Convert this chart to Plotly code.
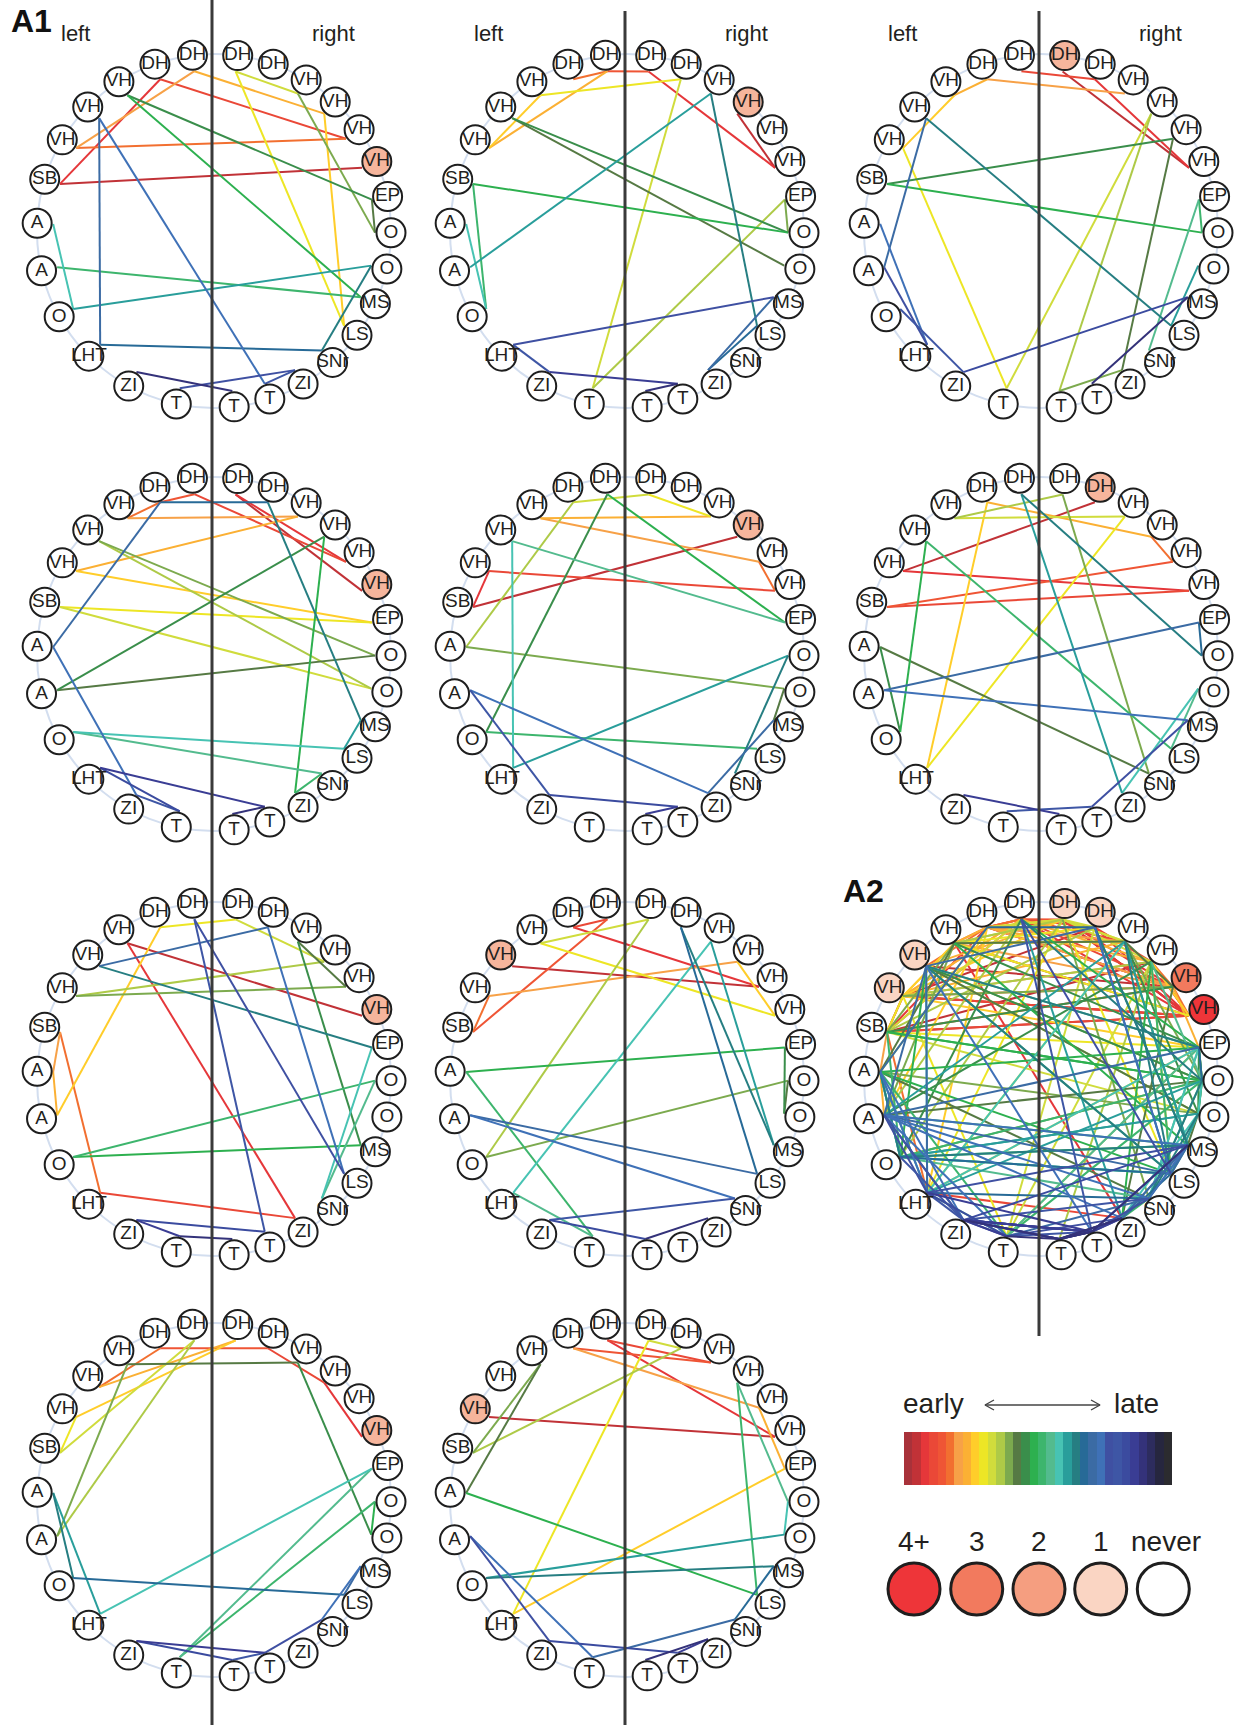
import numpy as np
import plotly.graph_objects as go

# ---------------- data ----------------
LEFT_LABELS = ["DH", "DH", "VH", "VH", "VH", "SB", "A", "A", "O", "LHT", "ZI", "T"]
RIGHT_LABELS = ["DH", "DH", "VH", "VH", "VH", "VH", "EP", "O", "O", "MS", "LS", "SNr", "ZI", "T", "T"]

# early -> late colour steps (index = order of the transition)
PALETTE = ["#A8323A", "#C13237", "#E5373A", "#EA4837", "#EF5535", "#F26F30", "#F7A147", "#FBB034",
           "#FFCD2A", "#EDE625", "#D0DC3C", "#AECA47", "#7CAA4E", "#567A44", "#3A8E4B", "#2DB04F",
           "#3DB56D", "#53BB8E", "#47C3B3", "#299E9B", "#267E82", "#276A97", "#3B6BA4", "#3F71B7",
           "#3F50A2", "#3E56A5", "#3B4B9F", "#3A3D94", "#34327A", "#2D2C5E", "#26263F", "#2B2B2F"]

LEVEL_NAMES = ["4+", "3", "2", "1", "never"]
LEVEL_COLORS = ["#EE3539", "#F27A5E", "#F59E80", "#FAD5C3", "#FFFFFF"]
SEED_COLOR = "#F6B59C"

EDGES_1 = [("L5", "R5", 1), ("L5", "L1", 2), ("L1", "R4", 3), ("L4", "R4", 5), ("L0", "L4", 6), ("L0", "R3", 7),
           ("R3", "R10", 8), ("R0", "R10", 9), ("R0", "R2", 10), ("R2", "R7", 12), ("R6", "R7", 13), ("L2", "R6", 14),
           ("L2", "R9", 15), ("L7", "R9", 16), ("L6", "L8", 18), ("L8", "R8", 19), ("R8", "R11", 20), ("L9", "R11", 21),
           ("L3", "L9", 22), ("L3", "R13", 23), ("L11", "R12", 24), ("R13", "R12", 25), ("L10", "R14", 28)]
EDGES_2 = [("R3", "R5", 1), ("R0", "R5", 2), ("L0", "R0", 4), ("L1", "L0", 5), ("L0", "L4", 7), ("L2", "L4", 8),
           ("L2", "R1", 9), ("R1", "L11", 10), ("R6", "L11", 11), ("R6", "R7", 12), ("L3", "R8", 13), ("L3", "R7", 14),
           ("L5", "R7", 15), ("L5", "L8", 16), ("L6", "L8", 18), ("L7", "R2", 19), ("R2", "R10", 20), ("R10", "R12", 21),
           ("R9", "R12", 22), ("R9", "L9", 24), ("L9", "L10", 25), ("L10", "R13", 27), ("R13", "R14", 28)]
EDGES_3 = [("R0", "R5", 1), ("R1", "R5", 2), ("L0", "R1", 3), ("L1", "R2", 6), ("L1", "L2", 7), ("L2", "L4", 8),
           ("L4", "L11", 9), ("L11", "R3", 10), ("R3", "R14", 11), ("R14", "R12", 12), ("R12", "R4", 13), ("R4", "L5", 14),
           ("L5", "R7", 15), ("R7", "R6", 16), ("R6", "R11", 17), ("R8", "R10", 19), ("L3", "R10", 20), ("L3", "L7", 22),
           ("L6", "L9", 23), ("L7", "L9", 24), ("L8", "L10", 25), ("L10", "R9", 26), ("R9", "R13", 28)]
EDGES_4 = [("R5", "R0", 1), ("R0", "R4", 2), ("L0", "R4", 3), ("L0", "L1", 4), ("L1", "L2", 5), ("L2", "R2", 6),
           ("R2", "L4", 7), ("L4", "R6", 8), ("L5", "R6", 9), ("L5", "R8", 10), ("L3", "R8", 11), ("L3", "R7", 12),
           ("R7", "L7", 13), ("L7", "R3", 14), ("R3", "R12", 15), ("R12", "R11", 16), ("R11", "L8", 17), ("L8", "R10", 18),
           ("R10", "R9", 19), ("R9", "R1", 20), ("R1", "L1", 21), ("L1", "L6", 22), ("L6", "L10", 23), ("L10", "L11", 25),
           ("L11", "L9", 26), ("L9", "R13", 27), ("R13", "R14", 28)]
EDGES_5 = [("R3", "L5", 1), ("L5", "L4", 2), ("L4", "R5", 3), ("R5", "R4", 5), ("R4", "L2", 6), ("L2", "R2", 7),
           ("R2", "R0", 9), ("R0", "L1", 10), ("L1", "L6", 11), ("L6", "R8", 12), ("R8", "R9", 13), ("L0", "L8", 14),
           ("L0", "R6", 15), ("L8", "R10", 16), ("R6", "L3", 17), ("L3", "L9", 18), ("L9", "R7", 19), ("R7", "R11", 20),
           ("R9", "R12", 22), ("R12", "L7", 23), ("L7", "L10", 25), ("L10", "R13", 26), ("R13", "R14", 27)]
EDGES_6 = [("R1", "L4", 1), ("L4", "R5", 2), ("R5", "L5", 3), ("L5", "R4", 4), ("R4", "R3", 5), ("R3", "L1", 7),
           ("L1", "L9", 8), ("L9", "R2", 9), ("R2", "L2", 10), ("L2", "R0", 11), ("R0", "R11", 12), ("R11", "L6", 13),
           ("L6", "L8", 14), ("L8", "L3", 15), ("L3", "R10", 16), ("R10", "R8", 17), ("R8", "R12", 18), ("R12", "L0", 19),
           ("L0", "R7", 20), ("R7", "R6", 21), ("R6", "L7", 22), ("L7", "R9", 23), ("R9", "R13", 24), ("R13", "L11", 25),
           ("L10", "R14", 27)]
EDGES_7 = [("R5", "L2", 1), ("L2", "R12", 2), ("R12", "L9", 3), ("L9", "L5", 5), ("L5", "L6", 6), ("L6", "L7", 7),
           ("L7", "L1", 8), ("L1", "R0", 9), ("R0", "R3", 10), ("R3", "L4", 11), ("L4", "R4", 12), ("R4", "R2", 13),
           ("R2", "R9", 14), ("R9", "L8", 15), ("L8", "R7", 16), ("R7", "R11", 17), ("R11", "R6", 18), ("R6", "L3", 20),
           ("L3", "R1", 22), ("R1", "R10", 23), ("R10", "L0", 24), ("L0", "R13", 25), ("R13", "L10", 26), ("L10", "L11", 27),
           ("L11", "R14", 28)]
EDGES_8 = [("L3", "R4", 1), ("R4", "L1", 2), ("L1", "L0", 3), ("L0", "L5", 4), ("L5", "L4", 5), ("L4", "R3", 6),
           ("R3", "R5", 8), ("R5", "L2", 9), ("L2", "R0", 10), ("R0", "L8", 11), ("L8", "R7", 12), ("R7", "R8", 13),
           ("R8", "R6", 14), ("R6", "L6", 15), ("L6", "L11", 16), ("L11", "L9", 17), ("L9", "R2", 18), ("R2", "R9", 19),
           ("R9", "R1", 20), ("R1", "R10", 21), ("R10", "L7", 22), ("L7", "R11", 23), ("R11", "L10", 25), ("L10", "R14", 26),
           ("R14", "R12", 28)]
EDGES_9 = [("R5", "R3", 2), ("R3", "R1", 3), ("R1", "L1", 4), ("L1", "L3", 5), ("L3", "R0", 7), ("R0", "L4", 8),
           ("L4", "L5", 9), ("L5", "L0", 10), ("L0", "L7", 11), ("L7", "L2", 12), ("L2", "R2", 13), ("R2", "R8", 14),
           ("R8", "R7", 15), ("R7", "L11", 16), ("L11", "R6", 17), ("R6", "L9", 18), ("L9", "L6", 19), ("L6", "L8", 20),
           ("L8", "R10", 21), ("R10", "R9", 22), ("R9", "R11", 23), ("R11", "R13", 24), ("R13", "R14", 25),
           ("R14", "L10", 26), ("L10", "R13", 27)]
EDGES_10 = [("L4", "R5", 1), ("R5", "L0", 2), ("L0", "R2", 3), ("L1", "R2", 4), ("L1", "R4", 6), ("R4", "R6", 7),
            ("R6", "L9", 8), ("L9", "R0", 9), ("R0", "R1", 10), ("R1", "L5", 11), ("L5", "L2", 12), ("L2", "L6", 13),
            ("L6", "R10", 15), ("R10", "R3", 16), ("R3", "R7", 17), ("R7", "R8", 18), ("R8", "L8", 19), ("L8", "R9", 20),
            ("R9", "R11", 21), ("R11", "L11", 22), ("L11", "L7", 23), ("L7", "L10", 24), ("L10", "R13", 26),
            ("R13", "R12", 27), ("R12", "R14", 28)]

A1_EDGES = [EDGES_1, EDGES_2, EDGES_3, EDGES_4, EDGES_5, EDGES_6, EDGES_7, EDGES_8, EDGES_9, EDGES_10]
A1_SEEDS = ["R5", "R3", "R0", "R5", "R3", "R1", "R5", "L3", "R5", "L4"]
# A2 node recurrence level; others are "never"
A2_LEVELS = {"R0": "1", "R1": "1", "R4": "3", "R5": "4+", "L3": "1", "L4": "1"}

# ---------------- layout geometry ----------------
W, H = 1242, 1725
COL_X = [214, 627, 1041]
ROW_Y = [231, 654, 1079, 1500]
A1_POS = [(0, 0), (0, 1), (0, 2), (1, 0), (1, 1), (1, 2), (2, 0), (2, 1), (3, 0), (3, 1)]
A2_POS = (2, 2)
NODE_R = 177
ANCHOR_R = 161
LEFT_ANG = [-7, -19.5, -32.5, -45.5, -59, -73, -87.5, -103, -119, -135, -151.2, -167.7]
RIGHT_ANG = [7.7 + 11.84 * i for i in range(15)]
LINE_X = [212, 625, 1039]
LINE_Y = [(0, H), (11, H), (11, 1336)]

FONT = "Liberation Sans, Arial, sans-serif"
NARROW = "Liberation Sans Narrow, Arial Narrow, Liberation Sans, Arial, sans-serif"
TXT = "#231F20"


def node_xy(cx, cy, node, r):
    ang = LEFT_ANG[int(node[1:])] if node[0] == "L" else RIGHT_ANG[int(node[1:])]
    t = np.radians(ang)
    return cx + r * np.sin(t), cy - r * np.cos(t)


ALL_NODES = ["L%d" % i for i in range(len(LEFT_LABELS))] + ["R%d" % i for i in range(len(RIGHT_LABELS))]


def label_of(node):
    return LEFT_LABELS[int(node[1:])] if node[0] == "L" else RIGHT_LABELS[int(node[1:])]


panels = []
for edges, seed, (r, c) in zip(A1_EDGES, A1_SEEDS, A1_POS):
    colors = {n: (SEED_COLOR if n == seed else "#FFFFFF") for n in ALL_NODES}
    panels.append((COL_X[c], ROW_Y[r], edges, colors))
a2_edges = [e for lst in A1_EDGES for e in lst]
a2_colors = {n: LEVEL_COLORS[LEVEL_NAMES.index(A2_LEVELS[n])] if n in A2_LEVELS else "#FFFFFF" for n in ALL_NODES}
panels.append((COL_X[A2_POS[1]], ROW_Y[A2_POS[0]], a2_edges, a2_colors))

fig = go.Figure()
shapes = []

# guide circles
for cx, cy, _, _ in panels:
    shapes.append(dict(type="circle", xref="x", yref="y", x0=cx - NODE_R, x1=cx + NODE_R,
                       y0=cy - NODE_R, y1=cy + NODE_R, line=dict(color="#D3DEEF", width=2), layer="below"))

# edges grouped by colour step
seg = {k: ([], []) for k in range(len(PALETTE))}
for cx, cy, edges, _ in panels:
    for a, b, k in edges:
        xa, ya = node_xy(cx, cy, a, ANCHOR_R)
        xb, yb = node_xy(cx, cy, b, ANCHOR_R)
        seg[k][0].extend([xa, xb, None])
        seg[k][1].extend([ya, yb, None])
for k in range(len(PALETTE)):
    if seg[k][0]:
        fig.add_trace(go.Scatter(x=seg[k][0], y=seg[k][1], mode="lines",
                                 line=dict(color=PALETTE[k], width=2), hoverinfo="skip", showlegend=False))

# nodes
nx, ny, nt, nc = [], [], [], []
for cx, cy, _, colors in panels:
    for n in ALL_NODES:
        x, y = node_xy(cx, cy, n, NODE_R)
        nx.append(x); ny.append(y); nt.append(label_of(n)); nc.append(colors[n])
fig.add_trace(go.Scatter(x=nx, y=ny, mode="markers+text", text=nt, textposition="middle center",
                         textfont=dict(family=NARROW, size=19, color=TXT),
                         marker=dict(size=29, color=nc, line=dict(color="#1E1E1E", width=2)),
                         hoverinfo="skip", showlegend=False))

# vertical midlines
for x, (y0, y1) in zip(LINE_X, LINE_Y):
    shapes.append(dict(type="line", xref="x", yref="y", x0=x, x1=x, y0=y0, y1=y1,
                       line=dict(color="#3A3A3A", width=3), layer="above"))

# colour bar legend
CB_X0, CB_X1, CB_Y0, CB_Y1 = 904, 1172, 1432, 1485
nb = len(PALETTE)
edges_x = list(np.linspace(CB_X0, CB_X1, nb + 1))
cscale = []
for i, col in enumerate(PALETTE):
    cscale.append([i / nb, col]); cscale.append([(i + 1) / nb, col])
fig.add_trace(go.Heatmap(x=edges_x, y=[CB_Y0, CB_Y1], z=[list(range(nb))], colorscale=cscale,
                         zmin=-0.5, zmax=nb - 0.5, showscale=False, hoverinfo="skip"))

# early <-> late arrow
AX0, AX1, AY = 985, 1100, 1405
fig.add_trace(go.Scatter(x=[AX0 + 9, AX0, AX0 + 9, None, AX0, AX1, None, AX1 - 9, AX1, AX1 - 9],
                         y=[AY - 5, AY, AY + 5, None, AY, AY, None, AY - 5, AY, AY + 5],
                         mode="lines", line=dict(color="#444444", width=1.4), hoverinfo="skip", showlegend=False))

# recurrence legend
LEG_X = [914, 976.7, 1039, 1100.7, 1163.3]
fig.add_trace(go.Scatter(x=LEG_X, y=[1589] * 5, mode="markers",
                         marker=dict(size=52, color=LEVEL_COLORS, line=dict(color="#1E1E1E", width=3)),
                         hoverinfo="skip", showlegend=False))

ann = []
for name, x in zip(LEVEL_NAMES, LEG_X):
    ann.append(dict(x=x + (3 if name == "never" else 0), y=1541, text=name, showarrow=False,
                    font=dict(family=FONT, size=28, color=TXT), xanchor="center", yanchor="middle"))
ann.append(dict(x=933, y=1403, text="early", showarrow=False, font=dict(family=FONT, size=28, color=TXT),
                xanchor="center", yanchor="middle"))
ann.append(dict(x=1136, y=1403, text="late", showarrow=False, font=dict(family=FONT, size=28, color=TXT),
                xanchor="center", yanchor="middle"))
for cx in COL_X:
    ann.append(dict(x=cx - 139, y=33, text="left", showarrow=False, font=dict(family=FONT, size=22, color=TXT),
                    xanchor="center", yanchor="middle"))
    ann.append(dict(x=cx + 119, y=33, text="right", showarrow=False, font=dict(family=FONT, size=22, color=TXT),
                    xanchor="center", yanchor="middle"))
ann.append(dict(x=31, y=21, text="<b>A1</b>", showarrow=False, font=dict(family=FONT, size=32, color="#111"),
                xanchor="center", yanchor="middle"))
ann.append(dict(x=863, y=891, text="<b>A2</b>", showarrow=False, font=dict(family=FONT, size=32, color="#111"),
                xanchor="center", yanchor="middle"))

fig.update_layout(
    width=W, height=H, margin=dict(l=0, r=0, t=0, b=0),
    paper_bgcolor="white", plot_bgcolor="white",
    xaxis=dict(range=[0, W], visible=False, fixedrange=True),
    yaxis=dict(range=[H, 0], visible=False, fixedrange=True),
    shapes=shapes, annotations=ann, showlegend=False,
)

fig.write_html("out.html", config={"displayModeBar": False},
               post_script="document.body.style.margin='0';document.body.style.padding='0';")
